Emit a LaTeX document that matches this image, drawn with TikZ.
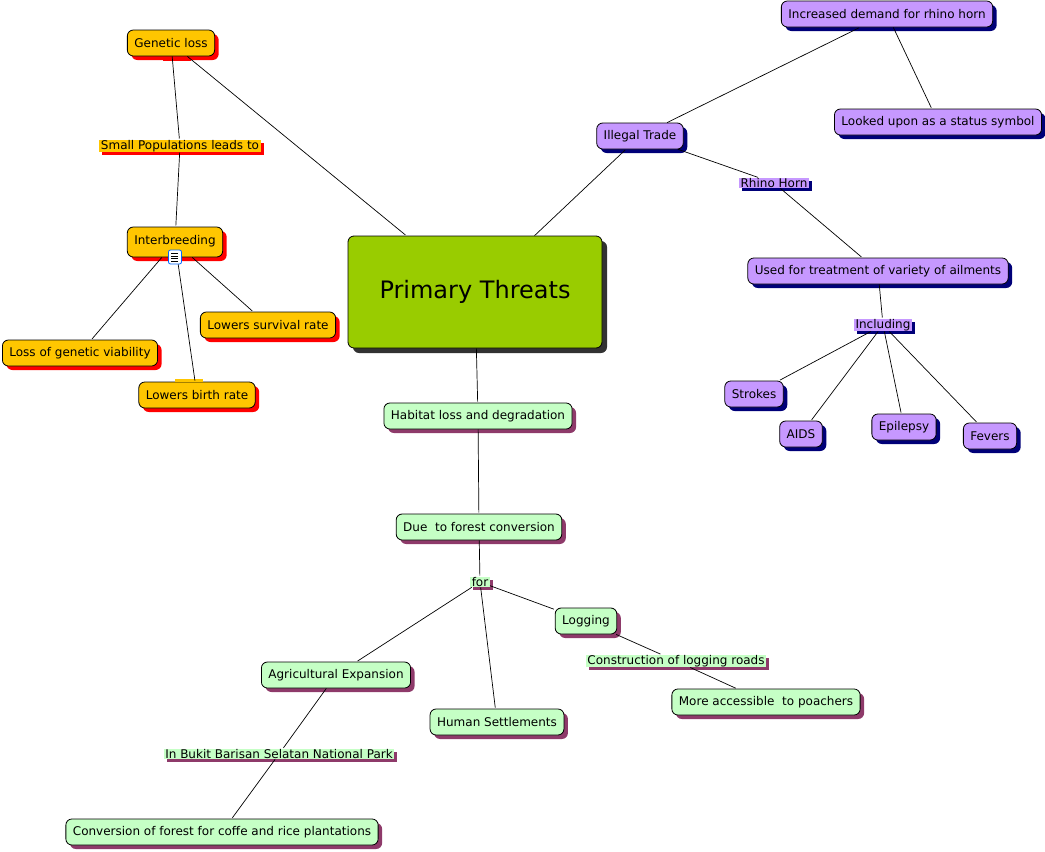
\documentclass[tikz,border=0pt]{standalone}
\usepackage{fontspec}
\setmainfont{DejaVu Sans}
\usetikzlibrary{positioning,shadows}

\definecolor{gold}{RGB}{255,198,0}
\definecolor{goldshadow}{RGB}{255,0,0}
\definecolor{lilac}{RGB}{198,152,255}
\definecolor{lilacshadow}{RGB}{0,0,120}
\definecolor{mint}{RGB}{197,255,197}
\definecolor{mintshadow}{RGB}{142,58,106}
\definecolor{lime}{RGB}{153,204,0}
\definecolor{limeshadow}{RGB}{50,50,50}

\begin{document}
\begin{tikzpicture}[x=1pt,y=-1pt,shorten >=1pt,node distance=100pt,on grid,
	txt/.style={font=\fontsize{12}{14}\selectfont},
	concept/.style={txt,draw,line width=0.8pt,rounded corners=6pt,inner xsep=7pt,inner ysep=2pt,minimum height=26pt},
	linking/.style={txt,inner xsep=1.5pt,inner ysep=0.5pt},
	genshadow/.style={drop shadow={shadow xshift=#1,shadow yshift=-#1,fill=goldshadow,opacity=1}},
	tradeshadow/.style={drop shadow={shadow xshift=#1,shadow yshift=-#1,fill=lilacshadow,opacity=1}},
	habshadow/.style={drop shadow={shadow xshift=#1,shadow yshift=-#1,fill=mintshadow,opacity=1}},
	gen/.style={concept,fill=gold,genshadow=4pt},
	trade/.style={concept,fill=lilac,tradeshadow=4pt},
	hab/.style={concept,fill=mint,habshadow=4pt},
	genlink/.style={linking,fill=gold,genshadow=3pt},
	tradelink/.style={linking,fill=lilac,tradeshadow=3pt},
	hablink/.style={linking,fill=mint,habshadow=3pt},
	docicon/.style={draw=blue!60!cyan,fill=white,line width=0.8pt,rounded corners=2pt,minimum width=13pt,minimum height=14pt,inner sep=0pt}]
	\useasboundingbox (0,0) rectangle (1045,852);

	% main concept
	\node[draw,line width=0.8pt,rounded corners=6pt,fill=lime,minimum width=254pt,minimum height=112pt,
		drop shadow={shadow xshift=5pt,shadow yshift=-5pt,fill=limeshadow,opacity=1},
		font=\fontsize{24}{28}\selectfont] (pt) at (475,292) {Primary Threats};

	% genetic loss branch
	\node[gen] (gl) [above left=249pt and 304pt of pt] {Genetic loss};
	\node[genlink] (spl) [below right=103pt and 9pt of gl] {Small Populations leads to};
	\node[gen,minimum height=30pt] (ib) [below left=96pt and 5pt of spl] {\raisebox{5pt}{Interbreeding}};
	\node[gen] (lsr) [below right=83pt and 93pt of ib] {Lowers survival rate};
	\node[gen] (lgv) [below left=111pt and 95pt of ib] {Loss of genetic viability};
	\node[gen] (lbr) [below right=153pt and 22pt of ib] {Lowers birth rate};
	\fill[goldshadow] ([xshift=-8pt,yshift=-1pt]gl.south) rectangle ++(28,4);
	\fill[gold] ([xshift=-22pt,yshift=3pt]lbr.north) rectangle ++(28,3);

	% illegal trade branch
	\node[trade] (it) [above right=156pt and 165pt of pt] {Illegal Trade};
	\node[trade] (idr) [above right=122pt and 247pt of it] {Increased demand for rhino horn};
	\node[trade] (lss) [below right=108pt and 51pt of idr] {Looked upon as a status symbol};
	\node[tradelink] (rh) [below right=47pt and 134pt of it] {Rhino Horn};
	\node[trade] (uft) [below right=88pt and 104pt of rh] {Used for treatment of variety of ailments};
	\node[tradelink] (inc) [below right=54pt and 5pt of uft] {Including};
	\node[trade] (str) [below left=69pt and 129pt of inc] {Strokes};
	\node[trade] (aids) [below left=109pt and 82pt of inc] {AIDS};
	\node[trade] (epi) [below right=102pt and 21pt of inc] {Epilepsy};
	\node[trade] (fev) [below right=111pt and 107pt of inc] {Fevers};

	% habitat branch
	\node[hab] (hl) [below right=124pt and 3pt of pt] {Habitat loss and degradation};
	\node[hab] (dfc) [below right=111pt and 1pt of hl] {Due~ to forest conversion};
	\node[hablink] (for) [below right=55pt and 1pt of dfc] {for};
	\node[hab] (log) [below right=39pt and 106pt of for] {Logging};
	\node[hablink] (clr) [below right=40pt and 90pt of log] {Construction of logging roads};
	\node[hab] (mat) [below right=41pt and 90pt of clr] {More accessible~ to poachers};
	\node[hab] (agr) [below left=93pt and 144pt of for] {Agricultural Expansion};
	\node[hab] (hs) [below right=140pt and 17pt of for] {Human Settlements};
	\node[hablink] (bbs) [below left=79pt and 57pt of agr] {In Bukit Barisan Selatan National Park};
	\node[hab] (cof) [below left=78pt and 57pt of bbs] {Conversion of forest for coffe and rice plantations};

	\path[line width=0.7pt]
		(gl) edge (spl)
		(spl) edge (ib)
		(gl) edge (pt)
		(ib) edge (lsr)
		edge (lgv)
		edge (lbr)
		(pt) edge (it)
		(it) edge (idr)
		edge (rh)
		(idr) edge (lss)
		(rh) edge (uft)
		(uft) edge (inc)
		(inc) edge (str)
		edge (aids)
		edge (epi)
		edge (fev)
		(pt) edge (hl)
		(hl) edge (dfc)
		(dfc) edge (for)
		(for) edge (log)
		edge (agr)
		edge (hs)
		(log) edge (clr)
		(clr) edge (mat)
		(agr) edge (bbs)
		(bbs) edge (cof);

	% note icon on interbreeding
	\node[docicon] (ibi) [below=15pt of ib] {};
	\foreach \s in {3.5,1,-1.5,-4}
		\draw[line width=0.6pt] ([xshift=-4pt,yshift=\s pt]ibi.center) -- ++(8,0);
\end{tikzpicture}
\end{document}
